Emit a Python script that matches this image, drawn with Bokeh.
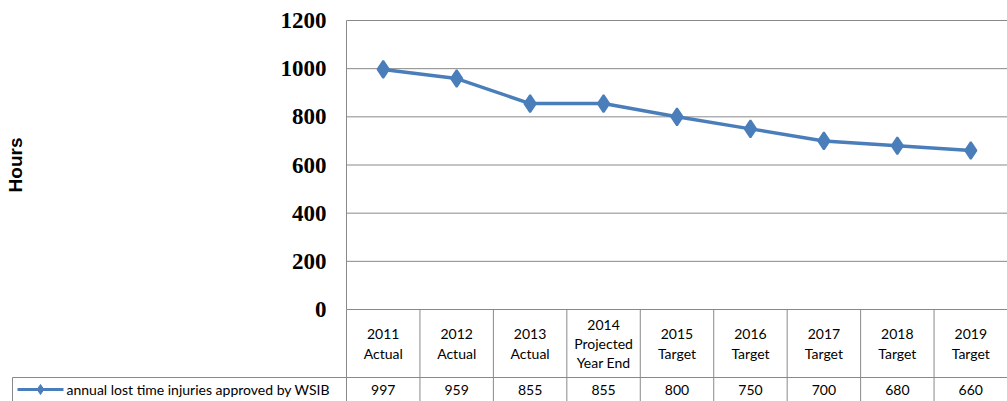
import math
from bokeh.plotting import figure
from bokeh.models import Range1d, FixedTicker, ColumnDataSource
from bokeh.core.properties import value
from bokeh.embed import file_html
from bokeh.resources import INLINE

# ---- data ----
categories = ["2011\nActual", "2012\nActual", "2013\nActual", "2014\nProjected\nYear End",
              "2015\nTarget", "2016\nTarget", "2017\nTarget", "2018\nTarget", "2019\nTarget"]
values = [997, 959, 855, 855, 800, 750, 700, 680, 660]
series_name = "annual lost time injuries approved by WSIB"
y_ticks = [0, 200, 400, 600, 800, 1000, 1200]
y_title = "Hours"

# ---- layout constants (pixels) ----
W, H = 1007, 401
LEFT = 346          # left edge of plot area
TOP = 20            # top of plot area
PLOT_H = 289        # height of plot area
HEADER_H = 68       # table header row
ROW_H = 24          # table data row
n = len(categories)
ppu = (W - LEFT) / n                 # px per category
ymax = max(y_ticks)
upp = ymax / PLOT_H                  # value units per px
BLUE = "#4A7EBB"
GRAY = "#898989"
TFONT = value("Lato")

x_lo = -LEFT / ppu
y_hi = ymax + TOP * upp
y_lo = -(H - TOP - PLOT_H) * upp

xs = [i + 0.5 for i in range(n)]
src = ColumnDataSource(dict(x=xs, y=values, cat=categories, lbl=[str(v) for v in values]))

p = figure(width=W, height=H, x_range=Range1d(x_lo, n), y_range=Range1d(y_lo, y_hi),
           output_backend="svg", toolbar_location=None, x_axis_location=None,
           min_border=0)
p.outline_line_color = None
p.grid.visible = False

# y axis at the left edge of the plot area
ax = p.yaxis[0]
ax.fixed_location = 0
ax.bounds = (0, ymax)
ax.ticker = FixedTicker(ticks=y_ticks)
ax.axis_line_color = GRAY
ax.major_tick_line_color = None
ax.minor_tick_line_color = None
ax.major_tick_out = 0
ax.major_label_standoff = 20
ax.major_label_text_font = "Liberation Serif"
ax.major_label_text_font_style = "bold"
ax.major_label_text_font_size = "23px"
ax.major_label_text_color = "black"
ax.axis_label = y_title
ax.axis_label_standoff = 252
ax.axis_label_text_font = "Liberation Sans"
ax.axis_label_text_font_style = "bold"
ax.axis_label_text_font_size = "19px"
ax.axis_label_text_color = "black"

# horizontal gridlines + plot-area border
p.segment(x0=[0] * len(y_ticks), y0=y_ticks, x1=[n] * len(y_ticks), y1=y_ticks, line_color=GRAY, line_width=1)
p.segment(x0=[n], y0=[0], x1=[n], y1=[ymax], line_color=GRAY, line_width=1)

p.line("x", "y", source=src, line_color=BLUE, line_width=3.5)
p.scatter("x", "y", source=src, marker="diamond", size=17, fill_color=BLUE, line_color=BLUE, line_width=2)

# ---- data table ----
row_top = -HEADER_H * upp           # boundary between header and data row
row_mid = row_top - (ROW_H / 2) * upp
bounds = list(range(n + 1))
p.segment(x0=bounds, y0=[0] * len(bounds), x1=bounds, y1=[y_lo] * len(bounds), line_color=GRAY, line_width=1)
cell_left = x_lo + 12 / ppu
p.segment(x0=[cell_left, cell_left], y0=[y_lo, row_top], x1=[cell_left, n], y1=[row_top, row_top],
          line_color=GRAY, line_width=1)

p.text("x", value(row_top / 2), text="cat", source=src, text_align="center",
       text_baseline="middle", text_font=TFONT, text_font_size="14px", text_line_height=1.14,
       text_color="black")
p.text("x", value(row_mid), text="lbl", source=src, text_align="center", text_baseline="middle",
       text_font=TFONT, text_font_size="14px", text_color="black")

# legend key
p.line([x_lo + 17 / ppu, x_lo + 63 / ppu], [row_mid, row_mid], line_color=BLUE, line_width=3)
p.scatter([x_lo + 40 / ppu], [row_mid], marker="diamond", size=10, fill_color=BLUE, line_color=BLUE)
p.text([x_lo + 66 / ppu], [row_mid], text=[series_name], text_align="left", text_baseline="middle",
       text_font=TFONT, text_font_size="14px", text_color="black")

open("out.html", "w").write(file_html(p, INLINE))
